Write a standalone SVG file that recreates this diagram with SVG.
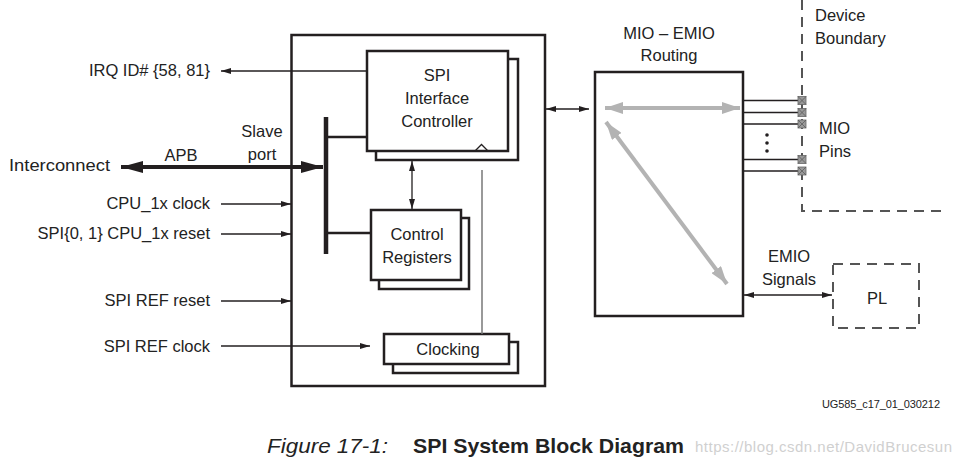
<svg xmlns="http://www.w3.org/2000/svg" width="958" height="461" viewBox="0 0 958 461">
<defs>
<style>
text{font-family:"Liberation Sans",Arial,sans-serif;font-size:16.5px;fill:#222}
.box{fill:#fff;stroke:#231f20;stroke-width:2.5}
.ln{stroke:#231f20;stroke-width:1.3;fill:none}
.gray{stroke:#b3b3b3;stroke-width:4;fill:none}
.dash{stroke:#555;stroke-width:2;stroke-dasharray:10,7;fill:none}
.pin{fill:#999;stroke:#666;stroke-width:0.8}
.m{text-anchor:middle}
.e{text-anchor:end}
</style>
<marker id="ah" viewBox="0 0 10 6" refX="10" refY="3" markerWidth="10" markerHeight="6" markerUnits="userSpaceOnUse" orient="auto-start-reverse"><path d="M0,0L10,3L0,6z" fill="#231f20"/></marker>
<marker id="ahb" viewBox="0 0 22 12" refX="22" refY="6" markerWidth="22" markerHeight="12" markerUnits="userSpaceOnUse" orient="auto-start-reverse"><path d="M0,0L22,6L0,12z" fill="#231f20"/></marker>
<marker id="ahg" viewBox="0 0 18 12" refX="18" refY="6" markerWidth="18" markerHeight="12" markerUnits="userSpaceOnUse" orient="auto-start-reverse"><path d="M0,0L18,6L0,12z" fill="#b3b3b3"/></marker>
</defs>
<rect width="958" height="461" fill="#fff"/>

<g id="main-block"><rect class="box" x="291.5" y="35" width="253.5" height="351"/></g>

<g id="spi-controller">
<rect class="box" x="376" y="59" width="142" height="101"/>
<rect class="box" x="367" y="51" width="141" height="100"/>
<path d="M475,151L481.5,144.5L488,151" class="ln"/>
<text class="m" x="437" y="81">SPI</text>
<text class="m" x="437" y="104">Interface</text>
<text class="m" x="437" y="127">Controller</text>
</g>

<g id="control-registers">
<rect class="box" x="379" y="218" width="90" height="71"/>
<rect class="box" x="371" y="210" width="90" height="70"/>
<text class="m" x="417" y="240">Control</text>
<text class="m" x="417" y="263">Registers</text>
</g>

<g id="clocking">
<rect class="box" x="393" y="342" width="125" height="31"/>
<rect class="box" x="384" y="334" width="125" height="30"/>
<text class="m" x="448" y="355">Clocking</text>
</g>

<g id="mio-emio">
<rect class="box" x="595" y="72" width="148" height="244"/>
<text class="m" x="669" y="39">MIO – EMIO</text>
<text class="m" x="669" y="61">Routing</text>
</g>

<g id="pl">
<rect class="dash" x="833" y="264" width="86" height="64"/>
<text class="m" x="877" y="304">PL</text>
</g>

<g id="device-boundary">
<path class="dash" d="M802,0V211H942"/>
<text x="815" y="21">Device</text>
<text x="815" y="44">Boundary</text>
</g>

<g id="mio-pins">
<path class="ln" d="M743,100.5H798M743,112.5H798M743,124H798M743,159.5H798M743,171H798"/>
<g class="pin">
<rect x="798" y="96.5" width="8" height="8"/><rect x="798" y="108.5" width="8" height="8"/><rect x="798" y="120" width="8" height="8"/><rect x="798" y="155.5" width="8" height="8"/><rect x="798" y="167" width="8" height="8"/>
</g>
<path d="M798,96.5l8,8M806,96.5l-8,8M798,108.5l8,8M806,108.5l-8,8M798,120l8,8M806,120l-8,8M798,155.5l8,8M806,155.5l-8,8M798,167l8,8M806,167l-8,8" stroke="#555" stroke-width="0.7"/>
<circle cx="767" cy="135" r="1.8" fill="#231f20"/><circle cx="767" cy="143" r="1.8" fill="#231f20"/><circle cx="767" cy="151" r="1.8" fill="#231f20"/>
<text x="819" y="134">MIO</text>
<text x="819" y="157">Pins</text>
</g>

<g id="labels">
<text class="e" x="210" y="76">IRQ ID# {58, 81}</text>
<text x="9" y="171" textLength="101" lengthAdjust="spacingAndGlyphs">Interconnect</text>
<text class="m" x="181" y="161">APB</text>
<text class="m" x="262" y="137">Slave</text>
<text class="m" x="262" y="160">port</text>
<text class="e" x="210" y="209">CPU_1x clock</text>
<text class="e" x="210" y="239">SPI{0, 1} CPU_1x reset</text>
<text class="e" x="210" y="306">SPI REF reset</text>
<text class="e" x="210" y="352">SPI REF clock</text>
<text class="m" x="789" y="262">EMIO</text>
<text class="m" x="789" y="285">Signals</text>
<text x="822" y="408" style="font-size:11px" textLength="118">UG585_c17_01_030212</text>
<text x="267" y="453" style="font-size:20px;font-style:italic" textLength="121" lengthAdjust="spacingAndGlyphs">Figure 17-1:</text>
<text x="413" y="453" style="font-size:21px;font-weight:bold" textLength="271" lengthAdjust="spacingAndGlyphs">SPI System Block Diagram</text>
<text x="695" y="452" style="font-size:15px;fill:#d0d0d0" textLength="257">https://blog.csdn.net/DavidBrucesun</text>
</g>

<g id="connectors">
<path class="ln" d="M367,71H221" marker-end="url(#ah)"/>
<path d="M121,167H323" stroke="#231f20" stroke-width="4" marker-start="url(#ahb)" marker-end="url(#ahb)"/>
<path d="M326,117V254" stroke="#231f20" stroke-width="4.5"/>
<path d="M326,137H367M326,233H371" stroke="#231f20" stroke-width="2.5"/>
<path class="ln" d="M412,161V209" marker-start="url(#ah)" marker-end="url(#ah)"/>
<path d="M482,170V334" stroke="#777" stroke-width="1.5"/>
<path class="ln" d="M221,204H291" marker-end="url(#ah)"/>
<path class="ln" d="M221,234H291" marker-end="url(#ah)"/>
<path class="ln" d="M221,301H291" marker-end="url(#ah)"/>
<path class="ln" d="M221,346H370" marker-end="url(#ah)"/>
<path class="ln" d="M546,109H589" marker-start="url(#ah)" marker-end="url(#ah)"/>
<path class="gray" d="M605,108H740" marker-start="url(#ahg)" marker-end="url(#ahg)"/>
<path class="gray" d="M606,122L727,284" marker-start="url(#ahg)" marker-end="url(#ahg)"/>
<path class="ln" d="M744,295H832" marker-start="url(#ah)" marker-end="url(#ah)"/>
</g>
</svg>
